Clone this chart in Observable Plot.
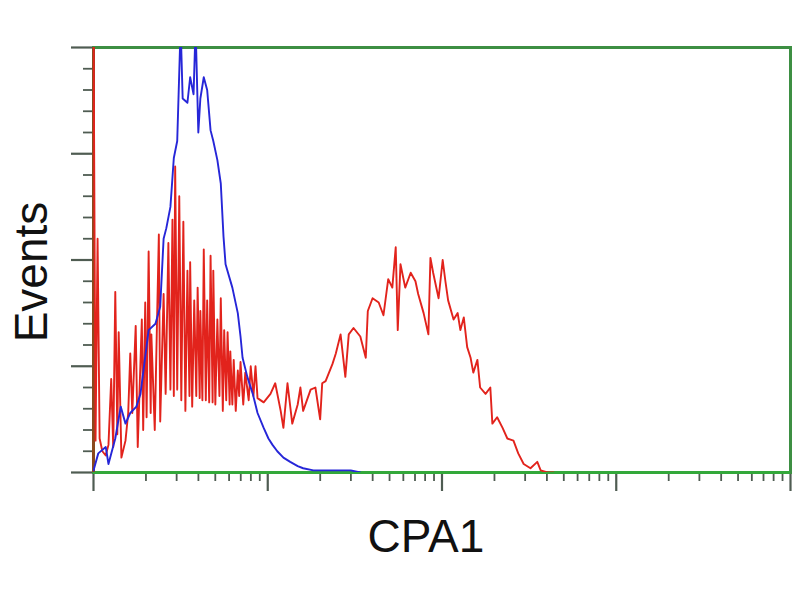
<!DOCTYPE html>
<html><head><meta charset="utf-8">
<script src="https://cdn.jsdelivr.net/npm/d3@7"></script>
<script src="https://cdn.jsdelivr.net/npm/@observablehq/plot@0.6"></script>
<style>body{margin:0;background:#fff}</style>
</head><body><div id="chart"></div>
<script>
// Histogram channels (0-1023, 4-decade log display) and event counts
const redChannel = [
  0,3,6,9,13,18,22,26,29,32,
  35,37,41,47,51,54,57,62,65,71,
  73,76,78,81,84,85,90,96,98,103,
  106,110,113,116,118,120,123,126,129,132,
  135,138,141,142,145,148,151,153,156,157,
  160,162,165,167,170,172,175,176,179,182,
  185,187,190,192,195,197,200,201,204,206,
  209,212,214,216,220,223,228,231,235,238,
  241,
  250,260,267,275,279,285,292,300,304,308,
  319,326,333,336,341,351,356,363,370,375,
  382,392,400,403,410,419,426,433,439,444,
  447,451,458,466,473,477,485,492,495,499,
  507,513,517,521,529,535,539,544,549,554,
  558,564,568,576,583,586,593,601,608,617,
  624,632,642,652,657,667,676
];
const redCount = [
  215,15,110,16,10,8,13,44,12,85,
  18,66,7,15,28,56,28,69,12,72,
  20,80,26,104,28,65,20,112,24,84,
  37,108,39,119,36,144,39,130,34,118,
  29,95,36,99,31,81,36,87,35,76,
  34,105,34,81,33,102,33,95,32,72,
  36,82,29,67,34,66,32,57,32,53,
  29,48,36,52,32,47,34,50,36,50,
  35,
  33,37,42,29,21,42,23,32,40,29,
  39,40,25,42,43,51,56,65,45,65,
  68,64,54,76,82,80,74,91,87,106,
  67,98,87,94,90,84,75,65,101,94,
  82,100,90,81,72,75,67,73,59,54,
  47,53,40,37,40,23,26,21,16,15,
  9,4,2,5,1,0,0
];
const blueChannel = [
  0,7,18,22,32,40,47,54,63,69,
  73,81,91,98,103,107,113,118,123,128,
  131,138,142,147,150,154,157,162,167,172,
  176,182,187,191,194,204,212,216,219,226,
  234,241,250,257,263,270,279,289,300,308,
  323,338,358,378,392
];
const blueCount = [
  1,9,12,4,16,31,23,28,31,37,
  47,67,70,78,110,115,125,148,156,210,
  176,174,186,178,210,160,176,186,180,161,
  156,147,136,111,98,87,75,64,54,45,
  37,28,21,16,13,10,7,5,3,2,
  1,1,1,1,0
];
const xMajorTicks = [1, 10, 100, 1000, 10000];
const yMajorTicks = [0, 50, 100, 150, 200];
const xLabel = "CPA1";
const yLabel = "Events";

const red = redChannel.map((c, i) => ({c, n: redCount[i]}));
const blue = blueChannel.map((c, i) => ({c, n: blueCount[i]}));
const toLin = c => 10 ** (c / 256);

const xMinor = [];
xMajorTicks.slice(0, -1).forEach(d => { for (let k = 2; k <= 9; k++) xMinor.push(k * d); });
const yMinor = d3.range(0, 201, 10).filter(v => !yMajorTicks.includes(v));

const tickColor = "#4f5c52";
const green = "#3d8f43";

const chart = Plot.plot({
  width: 800, height: 600,
  marginLeft: 93, marginRight: 10, marginTop: 47, marginBottom: 128,
  x: {type: "log", domain: [1, 10000]},
  y: {domain: [0, 200]},
  marks: [
    Plot.axisX({ticks: xMinor, tickSize: 9, tickFormat: () => "", label: null, stroke: tickColor, strokeWidth: 1.8}),
    Plot.axisX({ticks: xMajorTicks, tickSize: 19, tickFormat: () => "", label: null, stroke: tickColor, strokeWidth: 2.2}),
    Plot.axisY({ticks: yMinor, tickSize: 10, tickFormat: () => "", label: null, stroke: tickColor, strokeWidth: 1.8}),
    Plot.axisY({ticks: yMajorTicks, tickSize: 22, tickFormat: () => "", label: null, stroke: tickColor, strokeWidth: 2.2}),
    Plot.frame({stroke: green, strokeWidth: 3}),
    Plot.ruleY([0], {stroke: "#33a83a", strokeWidth: 3}),
    Plot.ruleX([1], {stroke: "#8a4a1e", strokeWidth: 3}),
    Plot.line(red, {x: d => toLin(d.c), y: "n", stroke: "#e2231c", strokeWidth: 1.9, clip: true}),
    Plot.line(blue, {x: d => toLin(d.c), y: "n", stroke: "#2626d8", strokeWidth: 1.9, clip: true})
  ]
});
document.getElementById("chart").append(chart);

const svg = d3.select(chart);
svg.append("text")
  .attr("x", 426).attr("y", 552)
  .attr("text-anchor", "middle")
  .attr("font-family", "Liberation Sans, Arial, sans-serif")
  .attr("font-size", 46).attr("fill", "#111")
  .text(xLabel);
svg.append("text")
  .attr("transform", "translate(47,272) rotate(-90)")
  .attr("text-anchor", "middle")
  .attr("font-family", "Liberation Sans, Arial, sans-serif")
  .attr("font-size", 46).attr("fill", "#111")
  .text(yLabel);
</script>
</body></html>
